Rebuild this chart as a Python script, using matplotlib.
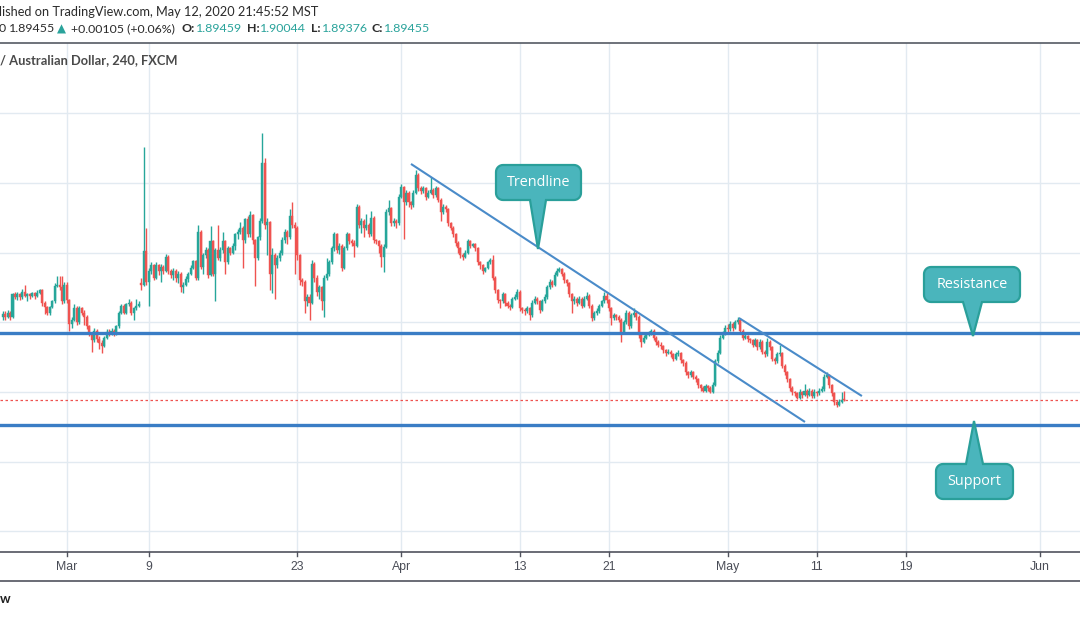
import numpy as np
import pandas as pd
import matplotlib
matplotlib.use("Agg")
import matplotlib.pyplot as plt
from matplotlib.patches import Polygon

# ---------------- data (GBP/AUD 4h, FXCM) ----------------
closes = [
 1.956,1.954,1.957,1.954,1.970,1.968,1.970,1.968,1.972,1.969,
 1.970,1.969,1.971,1.969,1.971,1.973,1.964,1.961,1.957,1.961,
 1.965,1.976,1.977,1.975,1.965,1.977,1.966,1.949,1.952,1.960,
 1.950,1.960,1.957,1.954,1.947,1.942,1.937,1.944,1.938,1.935,
 1.933,1.939,1.943,1.942,1.944,1.942,1.947,1.957,1.962,1.957,
 1.963,1.964,1.957,1.960,1.962,1.963,1.977,2.001,1.979,1.987,
 1.991,1.982,1.991,1.987,1.990,1.987,1.997,1.987,1.984,1.987,
 1.982,1.985,1.975,1.977,1.981,1.985,1.989,1.994,1.982,2.015,
 1.990,1.998,2.002,1.984,2.008,1.985,2.002,1.996,2.002,2.008,
 1.993,2.003,2.000,2.005,2.013,2.015,2.018,2.009,2.024,2.013,
 2.027,2.009,1.996,2.011,2.023,2.064,2.020,2.022,1.985,1.998,
 1.991,1.996,2.000,2.009,2.015,2.011,2.026,2.020,2.018,1.998,
 1.980,1.979,1.965,1.968,1.964,1.992,1.982,1.972,1.975,1.965,
 1.982,1.985,1.993,2.003,2.013,2.002,2.005,1.989,2.003,2.013,
 2.008,2.007,2.005,2.033,2.020,2.023,2.018,2.020,2.013,2.025,
 2.009,2.008,2.005,1.997,2.004,2.029,2.032,2.021,2.023,2.021,
 2.040,2.047,2.036,2.043,2.036,2.034,2.043,2.056,2.046,2.044,
 2.046,2.040,2.043,2.045,2.041,2.046,2.038,2.029,2.033,2.031,
 2.021,2.018,2.013,2.007,2.003,1.998,1.997,2.000,2.008,2.005,
 2.006,2.003,1.993,1.991,1.987,1.989,1.993,1.995,1.982,1.973,
 1.966,1.965,1.970,1.964,1.962,1.961,1.967,1.968,1.972,1.960,
 1.959,1.958,1.960,1.955,1.964,1.967,1.965,1.959,1.965,1.968,
 1.975,1.979,1.977,1.984,1.987,1.988,1.985,1.980,1.978,1.970,
 1.965,1.967,1.964,1.967,1.962,1.967,1.969,1.962,1.953,1.957,
 1.958,1.962,1.965,1.969,1.966,1.960,1.953,1.955,1.954,1.952,
 1.943,1.950,1.957,1.947,1.955,1.957,1.954,1.941,1.936,1.939,
 1.941,1.942,1.944,1.939,1.936,1.934,1.933,1.930,1.928,1.929,
 1.927,1.924,1.927,1.928,1.923,1.921,1.914,1.912,1.914,1.911,
 1.909,1.905,1.903,1.901,1.904,1.903,1.900,1.905,1.922,1.928,
 1.939,1.942,1.946,1.945,1.949,1.946,1.950,1.952,1.944,1.939,
 1.940,1.938,1.937,1.934,1.937,1.932,1.936,1.929,1.927,1.936,
 1.932,1.924,1.922,1.927,1.928,1.919,1.914,1.909,1.903,1.900,
 1.899,1.896,1.900,1.898,1.901,1.898,1.901,1.897,1.900,1.899,
 1.901,1.902,1.911,1.912,1.905,1.899,1.893,1.891,1.893,1.89459,
 1.89455]

highs = [
 1.958,1.958,1.959,1.958,1.971,1.972,1.972,1.971,1.974,1.977,
 1.971,1.971,1.972,1.972,1.973,1.974,1.974,1.965,1.962,1.962,
 1.966,1.978,1.983,1.983,1.983,1.979,1.979,1.967,1.954,1.963,
 1.962,1.962,1.961,1.959,1.955,1.948,1.943,1.946,1.945,1.940,
 1.937,1.940,1.945,1.945,1.946,1.945,1.948,1.958,1.963,1.963,
 1.964,1.967,1.965,1.961,1.967,1.965,1.982,2.076,2.018,1.989,
 1.993,1.992,1.993,1.992,1.992,1.991,1.999,1.998,1.988,1.989,
 1.988,1.987,1.986,1.979,1.983,1.986,1.991,1.995,1.995,2.020,
 2.016,2.000,2.004,2.003,2.019,2.009,2.003,2.020,2.004,2.015,
 2.009,2.005,2.004,2.007,2.014,2.017,2.022,2.019,2.025,2.026,
 2.030,2.028,2.010,2.012,2.025,2.086,2.068,2.025,2.023,2.003,
 2.000,1.998,2.002,2.011,2.017,2.016,2.031,2.036,2.022,2.019,
 1.999,1.982,1.980,1.970,1.970,1.995,1.993,1.984,1.977,1.976,
 1.984,1.996,1.995,2.005,2.015,2.014,2.007,2.006,2.005,2.015,
 2.014,2.010,2.009,2.035,2.034,2.025,2.024,2.028,2.021,2.030,
 2.026,2.010,2.009,2.006,2.006,2.031,2.038,2.033,2.025,2.024,
 2.042,2.049,2.048,2.045,2.044,2.037,2.045,2.059,2.057,2.048,
 2.048,2.047,2.045,2.054,2.046,2.048,2.047,2.039,2.035,2.034,
 2.032,2.022,2.019,2.014,2.008,2.004,2.000,2.002,2.010,2.009,
 2.007,2.007,2.004,1.994,1.992,1.990,1.994,1.996,1.998,1.983,
 1.974,1.967,1.972,1.971,1.965,1.963,1.968,1.970,1.974,1.973,
 1.961,1.960,1.962,1.961,1.966,1.969,1.968,1.966,1.967,1.970,
 1.977,1.981,1.980,1.986,1.989,1.990,1.989,1.986,1.981,1.979,
 1.971,1.969,1.968,1.969,1.968,1.969,1.972,1.970,1.963,1.958,
 1.960,1.963,1.966,1.972,1.971,1.967,1.961,1.957,1.956,1.955,
 1.953,1.952,1.959,1.958,1.957,1.960,1.958,1.955,1.942,1.941,
 1.943,1.944,1.945,1.945,1.940,1.937,1.936,1.934,1.931,1.931,
 1.930,1.928,1.929,1.930,1.929,1.924,1.922,1.915,1.916,1.915,
 1.912,1.910,1.906,1.904,1.906,1.905,1.904,1.907,1.924,1.930,
 1.941,1.944,1.948,1.949,1.951,1.950,1.952,1.954,1.953,1.945,
 1.942,1.941,1.939,1.938,1.939,1.938,1.938,1.937,1.930,1.939,
 1.937,1.933,1.925,1.929,1.934,1.929,1.920,1.915,1.910,1.904,
 1.901,1.900,1.902,1.901,1.906,1.902,1.903,1.902,1.902,1.901,
 1.903,1.904,1.913,1.914,1.913,1.906,1.900,1.894,1.895,1.900,
 1.90044]

lows = [
 1.952,1.952,1.953,1.952,1.953,1.967,1.966,1.966,1.967,1.968,
 1.965,1.967,1.968,1.967,1.968,1.970,1.962,1.956,1.955,1.955,
 1.960,1.964,1.975,1.973,1.963,1.964,1.964,1.944,1.946,1.951,
 1.948,1.949,1.955,1.948,1.945,1.940,1.929,1.936,1.936,1.931,
 1.928,1.932,1.938,1.940,1.941,1.940,1.941,1.946,1.956,1.956,
 1.956,1.962,1.955,1.952,1.959,1.961,1.973,1.976,1.977,1.962,
 1.985,1.980,1.981,1.984,1.979,1.985,1.986,1.985,1.982,1.980,
 1.979,1.978,1.972,1.971,1.976,1.979,1.984,1.988,1.980,1.980,
 1.988,1.985,1.996,1.982,1.983,1.983,1.965,1.995,1.994,2.000,
 1.985,1.992,1.998,1.999,2.002,2.010,2.013,1.989,2.007,2.011,
 2.011,2.006,1.976,1.995,2.009,2.021,2.017,1.998,1.973,1.971,
 1.967,1.989,1.994,1.998,2.007,2.006,2.010,2.018,1.985,1.995,
 1.977,1.976,1.957,1.962,1.952,1.963,1.979,1.969,1.967,1.959,
 1.954,1.980,1.983,1.992,2.001,2.000,1.999,1.987,1.988,2.002,
 2.006,2.005,1.997,2.004,2.018,2.014,2.011,2.016,2.011,2.012,
 2.007,2.006,2.000,1.990,1.986,2.003,2.027,2.019,2.019,2.018,
 2.020,2.039,2.010,2.034,2.033,2.031,2.033,2.042,2.044,2.042,
 2.043,2.038,2.039,2.042,2.039,2.040,2.036,2.023,2.028,2.029,
 2.019,2.016,2.011,2.005,2.000,1.996,1.995,1.996,1.999,2.003,
 2.004,2.001,1.991,1.988,1.985,1.986,1.988,1.992,1.980,1.971,
 1.964,1.960,1.964,1.962,1.960,1.959,1.960,1.966,1.967,1.958,
 1.957,1.955,1.957,1.952,1.954,1.963,1.963,1.957,1.958,1.964,
 1.967,1.974,1.975,1.976,1.983,1.986,1.983,1.978,1.976,1.968,
 1.957,1.963,1.962,1.963,1.960,1.961,1.966,1.960,1.951,1.952,
 1.955,1.957,1.961,1.964,1.964,1.958,1.948,1.952,1.952,1.950,
 1.936,1.942,1.949,1.945,1.946,1.954,1.952,1.939,1.932,1.935,
 1.938,1.940,1.941,1.937,1.934,1.932,1.931,1.928,1.926,1.927,
 1.925,1.922,1.923,1.926,1.921,1.919,1.912,1.910,1.911,1.909,
 1.907,1.903,1.901,1.900,1.900,1.901,1.899,1.899,1.904,1.921,
 1.927,1.938,1.941,1.943,1.944,1.944,1.945,1.949,1.942,1.937,
 1.938,1.936,1.935,1.932,1.933,1.930,1.931,1.927,1.925,1.926,
 1.930,1.922,1.920,1.921,1.926,1.917,1.912,1.907,1.901,1.898,
 1.897,1.895,1.895,1.896,1.897,1.896,1.897,1.896,1.896,1.897,
 1.898,1.900,1.901,1.910,1.903,1.897,1.891,1.889,1.890,1.892,
 1.89376]

gap_opens = {0: 1.954, 56: 1.978}          # bars whose open differs from prior close
first_bar = "2020-02-24 05:00"
tick_dates = ["2020-03-01", "2020-03-09", "2020-03-23", "2020-04-01", "2020-04-13",
              "2020-04-21", "2020-05-01", "2020-05-11", "2020-05-19", "2020-06-01"]
tick_labels = ["Mar", "9", "23", "Apr", "13", "21", "May", "11", "19", "Jun"]
price_grid = [1.80, 1.85, 1.90, 1.95, 2.00, 2.05, 2.10]
resistance = 1.9423
support = 1.8763
last_price = 1.89455
trend_main = [(165.0, 2.0636), (324.2, 1.8785)]     # (bar index, price)
trend_upper = [(297.5, 1.9531), (347.2, 1.8971)]

# ---------------- build OHLC ----------------
closes = np.array(closes)
opens = np.empty_like(closes)
opens[1:] = closes[:-1]
for k, v in gap_opens.items():
    opens[k] = v
highs = np.maximum(np.array(highs), np.maximum(opens, closes))
lows = np.minimum(np.array(lows), np.minimum(opens, closes))
xs = np.arange(len(closes))


def bar_times(start, end):
    out = []
    day = pd.Timestamp(start).normalize()
    s = pd.Timestamp(start)
    while day <= pd.Timestamp(end):
        wd = day.weekday()
        if wd <= 3:
            hrs = [1, 5, 9, 13, 17, 21]
        elif wd == 4:
            hrs = [1, 5, 9]
        elif wd == 6:
            hrs = [13, 17, 21]
        else:
            hrs = []
        for h in hrs:
            t = day + pd.Timedelta(hours=h)
            if t >= s:
                out.append(t)
        day += pd.Timedelta(days=1)
    return out


times = bar_times(first_bar, "2020-06-05")
tick_pos = []
for d in tick_dates:
    dd = pd.Timestamp(d).date()
    tick_pos.append(next(i for i, t in enumerate(times) if t.date() == dd))

# ---------------- figure ----------------
W, H = 1080, 618
fig = plt.figure(figsize=(W / 100, H / 100), dpi=100)
fig.patch.set_facecolor("white")

top_px, bot_px = 43, 552
ax = fig.add_axes([0, (H - bot_px) / H, 1, (bot_px - top_px) / H])
px_per_bar = 2.475
x0 = -2.6 / px_per_bar
ax.set_xlim(x0, x0 + W / px_per_bar)
ax.set_ylim(1.78522, 2.15036)
for s in ax.spines.values():
    s.set_visible(False)
ax.set_xticks([])
ax.set_yticks([])

grid_c = "#e2eaf1"
for p in price_grid:
    ax.axhline(p, color=grid_c, lw=1.0, zorder=0)
for tp in tick_pos:
    ax.axvline(tp, color=grid_c, lw=1.0, zorder=0)

up_c, dn_c = "#26a69a", "#ef5350"
cols = [up_c if c > o else dn_c for o, c in zip(opens, closes)]
ax.vlines(xs, lows, highs, colors=cols, lw=1.0, zorder=2)
body_h = np.maximum(np.abs(closes - opens), 0.0005)
ax.bar(xs, body_h, bottom=np.minimum(opens, closes), width=0.82, color=cols,
       edgecolor=cols, linewidth=0.3, zorder=3)

line_c = "#3a7dc5"
ax.axhline(resistance, color=line_c, lw=2.4, zorder=4)
ax.axhline(support, color=line_c, lw=2.4, zorder=4)
for seg in (trend_main, trend_upper):
    ax.plot([seg[0][0], seg[1][0]], [seg[0][1], seg[1][1]], color="#4a8bc9",
            lw=1.5, zorder=4, solid_capstyle="butt")
ax.axhline(last_price, color="#ef5350", lw=0.9, ls=(0, (2, 2)), zorder=1)


def fx(x):
    return x / W


def fy(y):
    return 1 - y / H


# bottom time axis
fig.add_artist(plt.Line2D([0, 1], [fy(552), fy(552)], color="#50535e", lw=1.2,
                          transform=fig.transFigure))
fig.add_artist(plt.Line2D([0, 1], [fy(581), fy(581)], color="#50535e", lw=1.2,
                          transform=fig.transFigure))
for tp, lab in zip(tick_pos, tick_labels):
    xpix = (tp - x0) * px_per_bar
    fig.add_artist(plt.Line2D([fx(xpix), fx(xpix)], [fy(552), fy(556)],
                              color="#50535e", lw=1.0, transform=fig.transFigure))
    fig.text(fx(xpix), fy(567), lab, ha="center", va="center", fontsize=8.8,
             color="#4a4d57", family="Liberation Sans")
fig.text(fx(0), fy(599), "w", ha="left", va="center", fontsize=9.5,
         color="#222222", family="Lato", weight="bold")

# header
fig.add_artist(plt.Line2D([0, 1], [fy(43), fy(43)], color="#555a63", lw=1.2,
                          transform=fig.transFigure))
hdr_font = "Lato"
fig.text(fx(-1), fy(12), "lished on TradingView.com, May 12, 2020 21:45:52 MST",
         ha="left", va="center", fontsize=9.2, color="#2b2b2b", family=hdr_font)
teal = "#2aa39b"
segs = [
    (0, "0", "#2b2b2b", "normal"),
    (10, "1.89455", "#2b2b2b", "normal"),
    (58, "\u25B2", teal, "normal"),
    (72, "+0.00105 (+0.06%)", "#2b2b2b", "normal"),
    (183, "O:", "#2b2b2b", "bold"),
    (197, "1.89459", teal, "normal"),
    (248, "H:", "#2b2b2b", "bold"),
    (261, "1.90044", teal, "normal"),
    (312, "L:", "#2b2b2b", "bold"),
    (323, "1.89376", teal, "normal"),
    (373, "C:", "#2b2b2b", "bold"),
    (385, "1.89455", teal, "normal"),
]
for xp, s, c, w in segs:
    fam = "DejaVu Sans" if s == "\u25B2" else hdr_font
    fs = 8.5 if s == "\u25B2" else 8.9
    fig.text(fx(xp - 1), fy(29), s, ha="left", va="center", fontsize=fs,
             color=c, family=fam, weight=w)
fig.text(fx(0), fy(60), "/ Australian Dollar, 240, FXCM", ha="left", va="center",
         fontsize=9.3, color="#4a4a4a", family=hdr_font, weight="bold")


# callouts
def callout(x0_, y0_, x1_, y1_, tip, base, side, text, r=7):
    def arc(cx, cy, a0, a1):
        return [(cx + r * np.cos(a), cy + r * np.sin(a)) for a in np.linspace(a0, a1, 8)]
    pts = []
    pts += arc(x0_ + r, y0_ + r, np.pi, 1.5 * np.pi)
    if side == "top":
        pts += [(base[0], y0_), tip, (base[1], y0_)]
    pts += arc(x1_ - r, y0_ + r, 1.5 * np.pi, 2 * np.pi)
    pts += arc(x1_ - r, y1_ - r, 0, 0.5 * np.pi)
    if side == "bottom":
        pts += [(base[1], y1_), tip, (base[0], y1_)]
    pts += arc(x0_ + r, y1_ - r, 0.5 * np.pi, np.pi)
    poly = Polygon([(fx(a), fy(b)) for a, b in pts], closed=True,
                   transform=fig.transFigure, facecolor="#4ab5bc",
                   edgecolor="#2a9f9a", lw=1.6, zorder=10)
    fig.add_artist(poly)
    fig.text(fx((x0_ + x1_) / 2), fy((y0_ + y1_) / 2), text, ha="center",
             va="center", fontsize=10.4, color="white", family="Open Sans",
             zorder=11)


callout(496, 165, 581, 200, (538, 249), (530, 546), "bottom", "Trendline")
callout(924, 267, 1020, 302, (973, 336), (963, 982), "bottom", "Resistance")
callout(936, 464, 1013, 499, (974, 421), (966, 983), "top", "Support")

fig.savefig("out.png", dpi=100, facecolor="white")
